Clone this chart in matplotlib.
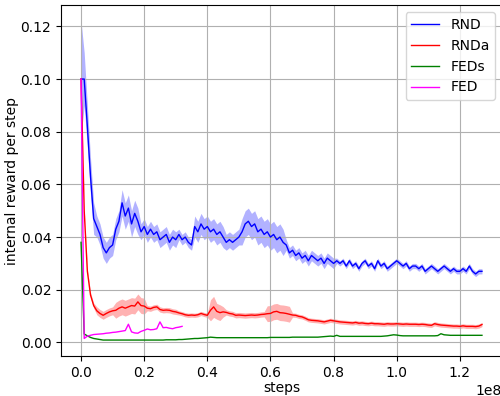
import numpy as np
from matplotlib import pyplot as plt

# training steps, logged every 1e6
steps = np.arange(128) * 1e6
fed_steps = np.arange(33) * 1e6

rnd = [0.100, 0.100, 0.082, 0.063, 0.047, 0.044, 0.041, 0.036, 0.034, 0.036,
       0.037, 0.043, 0.046, 0.053, 0.048, 0.051, 0.045, 0.049, 0.046, 0.042,
       0.044, 0.041, 0.043, 0.041, 0.042, 0.039, 0.040, 0.041, 0.038, 0.040,
       0.039, 0.041, 0.039, 0.040, 0.038, 0.037, 0.044, 0.042, 0.045, 0.043,
       0.044, 0.042, 0.043, 0.041, 0.042, 0.040, 0.038, 0.039, 0.038, 0.039,
       0.040, 0.042, 0.045, 0.046, 0.044, 0.045, 0.042, 0.043, 0.041, 0.042,
       0.040, 0.041, 0.039, 0.040, 0.038, 0.037, 0.034, 0.035, 0.033, 0.034,
       0.032, 0.033, 0.031, 0.033, 0.032, 0.031, 0.032, 0.030, 0.032, 0.031,
       0.030, 0.031, 0.030, 0.031, 0.029, 0.031, 0.029, 0.030, 0.028, 0.030,
       0.031, 0.029, 0.030, 0.028, 0.031, 0.029, 0.030, 0.028, 0.029, 0.030,
       0.031, 0.030, 0.029, 0.030, 0.028, 0.029, 0.029, 0.028, 0.029, 0.027,
       0.028, 0.029, 0.028, 0.027, 0.028, 0.029, 0.028, 0.027, 0.028, 0.027,
       0.027, 0.028, 0.027, 0.029, 0.027, 0.026, 0.027, 0.027]
rnd_std = [0.022, 0.010, 0.008, 0.007, 0.006, 0.004, 0.004, 0.004, 0.004, 0.004,
           0.004, 0.004, 0.004, 0.005, 0.005, 0.005, 0.005, 0.005, 0.005, 0.003,
           0.003, 0.003, 0.003, 0.003, 0.003, 0.003, 0.003, 0.003, 0.003, 0.003,
           0.003, 0.002, 0.002, 0.002, 0.002, 0.002, 0.004, 0.004, 0.004, 0.004,
           0.004, 0.004, 0.004, 0.004, 0.004, 0.004, 0.003, 0.003, 0.003, 0.003,
           0.003, 0.005, 0.005, 0.005, 0.005, 0.005, 0.005, 0.005, 0.005, 0.005,
           0.005, 0.005, 0.005, 0.005, 0.005, 0.002, 0.002, 0.002, 0.002, 0.002,
           0.002, 0.002, 0.002, 0.002, 0.002, 0.002, 0.002, 0.002, 0.002, 0.002,
           0.002, 0.001, 0.001, 0.001, 0.001, 0.001, 0.001, 0.001, 0.001, 0.001,
           0.001, 0.001, 0.001, 0.001, 0.001, 0.001, 0.001, 0.001, 0.001, 0.001,
           0.001, 0.001, 0.001, 0.001, 0.001, 0.001, 0.001, 0.001, 0.001, 0.001,
           0.001, 0.001, 0.001, 0.001, 0.001, 0.001, 0.001, 0.001, 0.001, 0.001,
           0.001, 0.001, 0.001, 0.001, 0.001, 0.001, 0.001, 0.001]

rnda = [0.100, 0.050, 0.027, 0.018, 0.014, 0.012, 0.011, 0.0103, 0.011, 0.0116,
        0.012, 0.0122, 0.013, 0.0135, 0.013, 0.0135, 0.014, 0.0138, 0.0154, 0.014,
        0.0138, 0.013, 0.0128, 0.0133, 0.0135, 0.0125, 0.0122, 0.0123, 0.0122, 0.0118,
        0.0116, 0.0112, 0.0109, 0.0105, 0.0103, 0.0104, 0.0103, 0.0105, 0.011, 0.0106,
        0.0103, 0.0122, 0.0135, 0.0118, 0.0113, 0.0116, 0.0114, 0.011, 0.0108, 0.0103,
        0.0104, 0.0103, 0.0102, 0.0103, 0.0104, 0.0103, 0.0104, 0.0106, 0.0107, 0.0109,
        0.011, 0.0116, 0.0118, 0.0113, 0.0112, 0.011, 0.0107, 0.0104, 0.0103, 0.0099,
        0.0097, 0.0092, 0.0086, 0.0084, 0.0083, 0.0082, 0.0080, 0.0078, 0.0081, 0.0084,
        0.0082, 0.0080, 0.0078, 0.0077, 0.0076, 0.0075, 0.0074, 0.0076, 0.0073, 0.0074,
        0.0072, 0.0071, 0.0073, 0.0071, 0.0071, 0.0070, 0.0069, 0.0071, 0.0070, 0.0070,
        0.0071, 0.0070, 0.0069, 0.0070, 0.0069, 0.0069, 0.0069, 0.0068, 0.0069, 0.0068,
        0.0066, 0.0065, 0.0071, 0.0068, 0.0066, 0.0065, 0.0064, 0.0063, 0.0062, 0.0062,
        0.0061, 0.0063, 0.0061, 0.0061, 0.0061, 0.0060, 0.0062, 0.0068]
rnda_std = [0.001, 0.001, 0.001, 0.001, 0.001, 0.0015, 0.0015, 0.0015, 0.0015, 0.0015,
            0.0015, 0.003, 0.003, 0.003, 0.003, 0.003, 0.003, 0.003, 0.003, 0.003,
            0.003, 0.001, 0.001, 0.001, 0.001, 0.001, 0.001, 0.001, 0.001, 0.001,
            0.001, 0.0008, 0.0008, 0.0008, 0.0008, 0.0008, 0.0008, 0.0008, 0.0008, 0.0008,
            0.0008, 0.004, 0.004, 0.003, 0.003, 0.002, 0.001, 0.001, 0.001, 0.001,
            0.001, 0.001, 0.001, 0.001, 0.001, 0.001, 0.001, 0.001, 0.001, 0.003,
            0.003, 0.003, 0.003, 0.003, 0.003, 0.003, 0.003, 0.0008, 0.0008, 0.0008,
            0.0008, 0.0008, 0.0008, 0.0008, 0.0008, 0.0008, 0.0008, 0.0008, 0.0008, 0.0008,
            0.0008, 0.0008, 0.0008, 0.0008, 0.0008, 0.0008, 0.0008, 0.0008, 0.0008, 0.0008,
            0.0008, 0.0008, 0.0008, 0.0008, 0.0008, 0.0008, 0.0008, 0.0008, 0.0008, 0.0008,
            0.0008, 0.0008, 0.0008, 0.0008, 0.0008, 0.0008, 0.0008, 0.0008, 0.0008, 0.0008,
            0.0008, 0.0008, 0.0008, 0.0008, 0.0008, 0.0008, 0.0008, 0.0008, 0.0008, 0.0008,
            0.0008, 0.0008, 0.0008, 0.0008, 0.0008, 0.0008, 0.0008, 0.0008]

feds = [0.038, 0.0032, 0.0025, 0.0019, 0.0015, 0.0013, 0.0011, 0.0009, 0.0009, 0.0009,
        0.0009, 0.0009, 0.0009, 0.0009, 0.0009, 0.0009, 0.0009, 0.0009, 0.0009, 0.0009,
        0.0009, 0.0009, 0.0009, 0.0009, 0.0009, 0.0009, 0.0009, 0.0010, 0.0010, 0.0010,
        0.0010, 0.0011, 0.0011, 0.0012, 0.0013, 0.0014, 0.0015, 0.0015, 0.0016, 0.0017,
        0.0018, 0.0020, 0.0019, 0.0018, 0.0018, 0.0018, 0.0018, 0.0018, 0.0018, 0.0018,
        0.0018, 0.0018, 0.0018, 0.0018, 0.0018, 0.0018, 0.0018, 0.0018, 0.0018, 0.0018,
        0.0019, 0.0019, 0.0019, 0.0019, 0.0019, 0.0019, 0.0019, 0.0020, 0.0020, 0.0020,
        0.0020, 0.0020, 0.0020, 0.0020, 0.0020, 0.0020, 0.0021, 0.0022, 0.0023, 0.0024,
        0.0023, 0.0027, 0.0023, 0.0023, 0.0023, 0.0023, 0.0023, 0.0023, 0.0023, 0.0023,
        0.0023, 0.0023, 0.0023, 0.0023, 0.0023, 0.0023, 0.0024, 0.0025, 0.0027, 0.0029,
        0.0028, 0.0026, 0.0025, 0.0025, 0.0025, 0.0025, 0.0025, 0.0025, 0.0025, 0.0025,
        0.0025, 0.0025, 0.0025, 0.0026, 0.0033, 0.0029, 0.0028, 0.0027, 0.0027, 0.0027,
        0.0027, 0.0027, 0.0027, 0.0027, 0.0027, 0.0027, 0.0027, 0.0027]

fed = [0.100, 0.0015, 0.0024, 0.0027, 0.0030, 0.0031, 0.0032, 0.0033, 0.0035, 0.0036,
       0.0038, 0.0039, 0.0041, 0.0043, 0.0045, 0.0069, 0.0040, 0.0036, 0.0035, 0.0042,
       0.0046, 0.0051, 0.0048, 0.0049, 0.0052, 0.0078, 0.0056, 0.0057, 0.0054, 0.0052,
       0.0056, 0.0058, 0.0061]

fig = plt.figure(figsize=(5, 3.96), dpi=100)
ax = fig.add_axes([0.122, 0.101, 0.882, 0.886])

rnd = np.array(rnd)
rnd_std = np.array(rnd_std)
rnda = np.array(rnda)
rnda_std = np.array(rnda_std)

ax.plot(steps, rnd, color='blue', lw=1, label='RND')
ax.fill_between(steps, rnd - rnd_std, rnd + rnd_std, color='blue', alpha=0.3, lw=0)
ax.plot(steps, rnda, color='red', lw=1, label='RNDa')
ax.fill_between(steps, rnda - rnda_std, rnda + rnda_std, color='red', alpha=0.3, lw=0)
ax.plot(steps, feds, color='green', lw=1, label='FEDs')
ax.plot(fed_steps, fed, color='magenta', lw=1, label='FED')

ax.grid(True)
ax.set_xlabel('steps', labelpad=1)
ax.set_ylabel('internal reward per step', labelpad=1)
ax.legend(loc='upper right')

fig.savefig('out.png', dpi=100)
